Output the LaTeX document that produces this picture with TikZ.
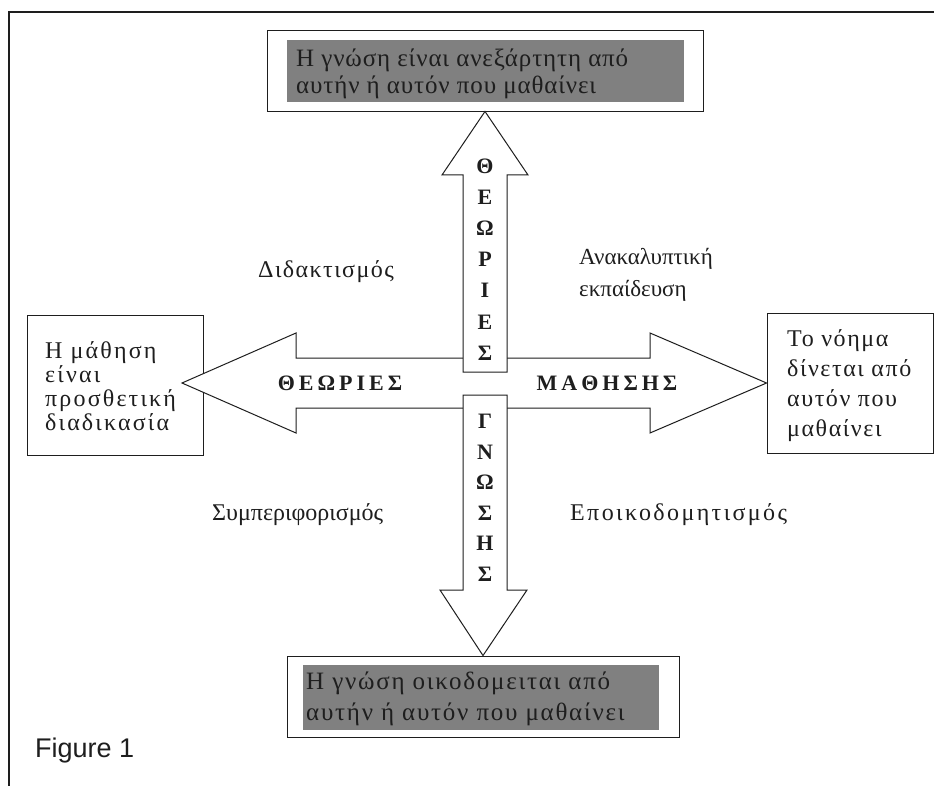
\documentclass[tikz,border=0pt]{standalone}
\usepackage{fontspec}
\setmainfont{Liberation Serif}
\newfontfamily\figfont{Liberation Sans}
\definecolor{greyfill}{RGB}{128,128,128}
\definecolor{ink}{RGB}{30,30,30}
\newcommand{\lsp}[1]{\addfontfeature{LetterSpace=#1}}
\begin{document}
\begin{tikzpicture}[x=1pt,y=-1pt,
  frame/.style={line width=2.4pt, draw=ink},
  box/.style={draw=ink, line width=0.9pt, rectangle, inner sep=0pt, fill=white},
  arrowline/.style={draw=ink, line width=1pt, line join=miter},
  lbl/.style={text=ink, inner sep=0pt},
  leftline/.style={font=\fontsize{24}{24}\selectfont\lsp{9}, text=ink, inner sep=0pt, anchor=base west},
  rightline/.style={font=\fontsize{24}{24}\selectfont\lsp{6.5}, text=ink, inner sep=0pt, anchor=base west},
  topgrey/.style={font=\fontsize{25}{27}\selectfont\lsp{3.5}, text=ink, inner sep=0pt, anchor=base west},
  botgrey/.style={font=\fontsize{25}{27}\selectfont\lsp{7}, text=ink, inner sep=0pt, anchor=base west},
  bletter/.style={font=\bfseries\fontsize{22}{22}\selectfont, text=ink, inner sep=0pt, anchor=base},
]
\useasboundingbox (0,0) rectangle (934,786);
\fill[white] (0,0) rectangle (934,786);
\draw[frame] (9,786) -- (9,12) -- (934,12);

% top box
\node[box, minimum width=436pt, minimum height=81pt] (topbox) at (485,70.5) {};
\fill[greyfill] (287,40) rectangle (684,102);
\node[topgrey] (top1) at (296,67) {Η γνώση είναι ανεξάρτητη από};
\node[topgrey] (top2) at (296,94) {αυτήν ή αυτόν που μαθαίνει};

% bottom box
\node[box, minimum width=392pt, minimum height=81pt] (botbox) at (483,696.5) {};
\fill[greyfill] (303,665) rectangle (659,730);
\node[botgrey] (bot1) at (306,689) {Η γνώση οικοδομειται από};
\node[botgrey] (bot2) at (306,720) {αυτήν ή αυτόν που μαθαίνει};

% left box
\node[box, minimum width=176pt, minimum height=140pt] (leftbox) at (115,385) {};
\node[leftline] (l1) at (45,358) {Η μάθηση};
\node[leftline] (l2) at (45,382) {είναι};
\node[leftline] (l3) at (45,406) {προσθετική};
\node[leftline] (l4) at (45,430) {διαδικασία};

% right box
\node[box, minimum width=166pt, minimum height=140pt] (rightbox) at (850,383) {};
\node[rightline] (r1) at (787,346) {Το νόημα};
\node[rightline] (r2) at (787,376) {δίνεται από};
\node[rightline] (r3) at (787,406) {αυτόν που};
\node[rightline] (r4) at (787,436) {μαθαίνει};

% horizontal arrows
\coordinate (lefttip) at (182,383);
\fill[white] (463,358) -- (296,358) -- (296,333) -- (lefttip) -- (296,433) -- (296,408) -- (463,408) -- cycle;
\draw[arrowline] (463,358) -- (296,358) -- (296,333) -- (lefttip) -- (296,433) -- (296,408) -- (463,408);
\fill[white] (507,358) -- (650,358) -- (650,333) -- (rightbox.west) -- (650,433) -- (650,408) -- (507,408) -- cycle;
\draw[arrowline] (507,358) -- (650,358) -- (650,333) -- (rightbox.west) -- (650,433) -- (650,408) -- (507,408);

% vertical arrows
\draw[arrowline, fill=white] (topbox.south) -- (528,175) -- (507,175) -- (507,372) -- (463,372) -- (463,175) -- (442,175) -- cycle;
\draw[arrowline, fill=white] (463,395) -- (507,395) -- (507,590) -- (527,590) -- (botbox.north) -- (440,590) -- (463,590) -- cycle;

% arrow words
\node[bletter] (wl) at (340,390) {Θ\kern4pt Ε\kern4pt Ω\kern4pt Ρ\kern4pt Ι\kern4pt Ε\kern4pt Σ};
\node[bletter] (wr) at (607,390) {Μ\kern4pt Α\kern4pt Θ\kern4pt Η\kern4pt Σ\kern4pt Η\kern4pt Σ};

\node[bletter] (u1) at (485,174) {Θ};
\node[bletter] (u2) at (485,205) {Ε};
\node[bletter] (u3) at (485,236) {Ω};
\node[bletter] (u4) at (485,267) {Ρ};
\node[bletter] (u5) at (485,298) {Ι};
\node[bletter] (u6) at (485,329) {Ε};
\node[bletter] (u7) at (485,360) {Σ};

\node[bletter] (d1) at (485,428) {Γ};
\node[bletter] (d2) at (485,459) {Ν};
\node[bletter] (d3) at (485,489) {Ω};
\node[bletter] (d4) at (485,520) {Σ};
\node[bletter] (d5) at (485,550) {Η};
\node[bletter] (d6) at (485,581) {Σ};

% quadrant labels
\node[lbl, anchor=base, font=\fontsize{24}{24}\selectfont\lsp{6}] (didakt) at (326,277) {Διδακτισμός};
\node[lbl, anchor=base west, font=\fontsize{23}{24}\selectfont] (anak1) at (579,265) {Ανακαλυπτική};
\node[lbl, anchor=base west, font=\fontsize{23}{24}\selectfont] (anak2) at (579,296) {εκπαίδευση};
\node[lbl, anchor=base west, font=\fontsize{24}{24}\selectfont] (sympe) at (212,520) {Συμπεριφορισμός};
\node[lbl, anchor=base west, font=\fontsize{24}{24}\selectfont\lsp{10}] (epoik) at (570,520) {Εποικοδομητισμός};

% caption
\node[font=\figfont\fontsize{27}{27}\selectfont, text=ink, inner sep=0pt, anchor=base west] (cap) at (35,757) {Figure 1};
\end{tikzpicture}
\end{document}
